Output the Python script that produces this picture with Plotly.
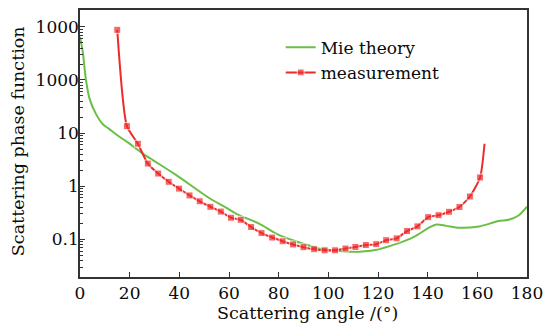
import plotly.graph_objects as go

# Mie theory (green curve)
mie_angle = [0, 1.1, 2.4, 3.8, 6.4, 9.3, 11.7, 14.9, 19.4, 25, 38.5, 52, 59, 63, 66, 72.3, 79,
             85.6, 92, 96, 105, 110, 119, 127.7, 134.3, 140.9, 143.5, 147.5, 152.8, 160.7,
             168.6, 172.6, 176.6, 180]
mie_value = [650, 340, 100, 45, 23, 14.5, 12, 9.2, 6.6, 4.2, 1.65, 0.6, 0.39, 0.30, 0.26, 0.196,
             0.128, 0.096, 0.077, 0.067, 0.060, 0.058, 0.063, 0.083, 0.11, 0.17, 0.19, 0.179,
             0.165, 0.175, 0.221, 0.233, 0.28, 0.41]

# measurement (red squares); the last point is the end of the line without a marker
meas_angle = [15, 18.9, 23.3, 27.3, 31.5, 35.7, 39.9, 44.1, 48.2, 52.5, 56.7, 60.8, 64.7, 68.9,
              73.1, 77.4, 81.6, 85.8, 90.0, 94.3, 98.5, 102.7, 106.9, 110.9, 115.1, 119.3,
              123.3, 127.5, 131.7, 135.9, 140.2, 144.4, 148.6, 152.8, 157.0, 161.1, 162.9]
meas_value = [880, 13.5, 6.3, 2.67, 1.73, 1.21, 0.90, 0.67, 0.52, 0.41, 0.333, 0.255, 0.233,
              0.17, 0.131, 0.108, 0.092, 0.080, 0.071, 0.065, 0.062, 0.062, 0.067, 0.0718,
              0.078, 0.081, 0.096, 0.104, 0.143, 0.175, 0.261, 0.284, 0.33, 0.405, 0.64, 1.46,
              6.3]

x_ticks = [0, 20, 40, 60, 80, 100, 120, 140, 160, 180]
y_tickvals = [1000, 100, 10, 1, 0.1]
y_ticktext = ["1000", "1000", "10", "1", "0.1"]

FONT = "DejaVu Serif"
AX = "#333333"
TXT = "#0a0a0a"
marker_sizes = [7] * (len(meas_angle) - 1) + [0]

fig = go.Figure()
fig.add_trace(go.Scatter(x=mie_angle, y=mie_value, mode="lines", name="Mie theory",
                         line=dict(color="#6abf45", width=2, shape="spline", smoothing=0.8)))
fig.add_trace(go.Scatter(x=meas_angle, y=meas_value, mode="lines+markers", name="measurement",
                         line=dict(color="#ee2a2a", width=2, shape="spline", smoothing=0.6),
                         marker=dict(symbol="square", size=marker_sizes, color="#ee2a2a")))

minor_vals = [m * 10 ** e for e in range(-2, 4) for m in range(2, 10)]

fig.update_layout(
    width=551, height=329,
    margin=dict(l=80, r=16, t=8, b=52),
    paper_bgcolor="white", plot_bgcolor="white",
    font=dict(family=FONT, size=17, color=TXT),
    showlegend=True,
    legend=dict(x=0.449, y=0.926, xanchor="left", yanchor="top", bgcolor="rgba(0,0,0,0)",
                font=dict(family=FONT, size=17, color=TXT), tracegroupgap=0),
    xaxis=dict(range=[0, 180], tickvals=x_ticks, ticks="inside", ticklen=5, tickcolor=AX,
               showline=True, linecolor=AX, linewidth=1.5, mirror=True, showgrid=False,
               zeroline=False, ticklabeloverflow="allow",
               tickfont=dict(family=FONT, size=17, color=TXT)),
    yaxis=dict(type="log", range=[-1.71, 3.318], tickmode="array", tickvals=y_tickvals,
               ticktext=y_ticktext, ticks="inside", ticklen=5, tickcolor=AX,
               ticklabelstandoff=-4, ticklabeloverflow="allow",
               minor=dict(tickmode="array", tickvals=minor_vals, ticks="inside", ticklen=3,
                          tickcolor=AX, showgrid=False),
               showline=True, linecolor=AX, linewidth=1.5, mirror=True, showgrid=False,
               zeroline=False, tickfont=dict(family=FONT, size=17, color=TXT)),
    annotations=[
        dict(text="Scattering angle /(°)", xref="paper", yref="paper", x=(311.5 - 80) / 455,
             y=-(313 - 277) / 269, xanchor="center", yanchor="middle", showarrow=False,
             font=dict(family=FONT, size=17.5, color=TXT)),
        dict(text="Scattering phase function", xref="paper", yref="paper", x=-(80 - 17) / 455,
             y=1 - (140 - 8) / 269, xanchor="center", yanchor="middle", showarrow=False,
             textangle=-90, font=dict(family=FONT, size=17.5, color=TXT)),
    ],
)

fig.write_html("out.html")
